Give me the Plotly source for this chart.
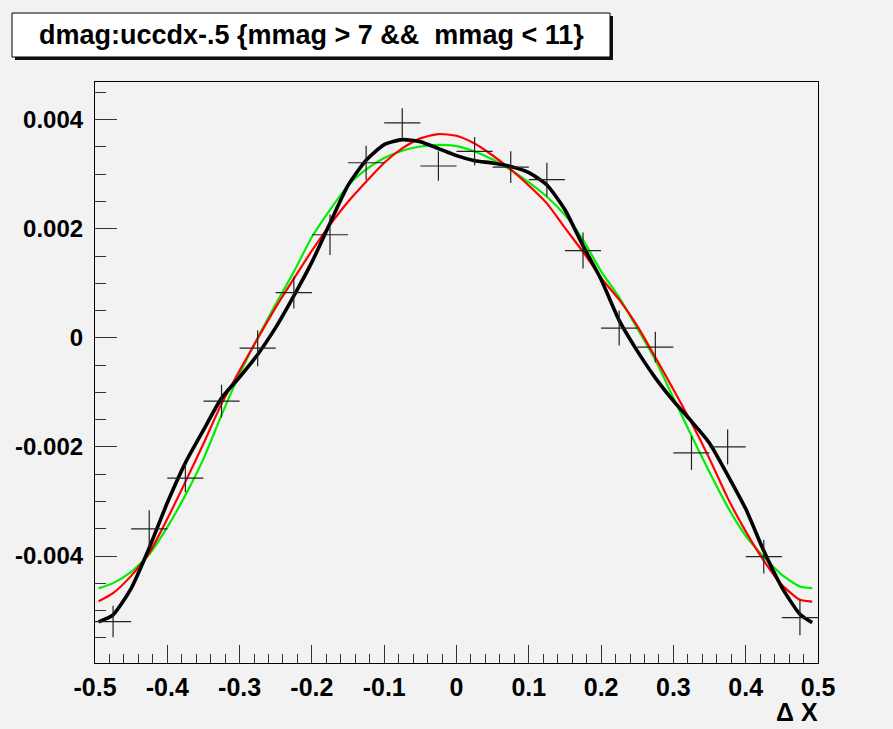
import plotly.graph_objects as go

# ---------------- data ----------------
# profile points (bin centres), values and errors
bin_x = [-0.475, -0.425, -0.375, -0.325, -0.275, -0.225, -0.175, -0.125, -0.075, -0.025,
         0.025, 0.075, 0.125, 0.175, 0.225, 0.275, 0.325, 0.375, 0.425, 0.475]
bin_y = [-0.00520, -0.00350, -0.00257, -0.00116, -0.00019, 0.00083, 0.00189, 0.00321, 0.00394, 0.00315,
         0.00342, 0.00313, 0.00290, 0.00160, 0.00018, -0.00017, -0.00211, -0.00200, -0.00401, -0.00513]
bin_err = [0.00029, 0.00034, 0.00026, 0.00030, 0.00033, 0.00029, 0.00037, 0.00031, 0.00027, 0.00027,
           0.00026, 0.00029, 0.00031, 0.00033, 0.00032, 0.00028, 0.00031, 0.00032, 0.00031, 0.00032]
bin_half_width = 0.025

# fitted curves, read at regular x positions
curve_x = [-0.495, -0.475, -0.45, -0.425, -0.4, -0.375, -0.35, -0.325, -0.3, -0.275,
           -0.25, -0.225, -0.2, -0.175, -0.15, -0.125, -0.1, -0.075, -0.05, -0.025,
           0.0, 0.025, 0.05, 0.075, 0.1, 0.125, 0.15, 0.175, 0.2, 0.225,
           0.25, 0.275, 0.3, 0.325, 0.35, 0.375, 0.4, 0.425, 0.45, 0.475, 0.492]

black_fit = [-0.005206, -0.005077, -0.004592, -0.003849, -0.003024, -0.002291, -0.001692, -0.001105, -0.000719, -0.000304,
             0.000192, 0.000770, 0.001388, 0.002102, 0.002795, 0.003254, 0.003541, 0.003633, 0.003596, 0.003470,
             0.003340, 0.003248, 0.003204, 0.003140, 0.003030, 0.002801, 0.002348, 0.001686, 0.001070, 0.000321,
             -0.000238, -0.000733, -0.001155, -0.001531, -0.001930, -0.002515, -0.003134, -0.003904, -0.004573, -0.005066, -0.005219]

red_fit = [-0.004830, -0.004680, -0.004363, -0.003941, -0.003318, -0.002640, -0.001940, -0.001210, -0.000598, -0.000011,
           0.000559, 0.001085, 0.001598, 0.002071, 0.002495, 0.002861, 0.003210, 0.003474, 0.003657, 0.003736,
           0.003704, 0.003562, 0.003343, 0.003087, 0.002793, 0.002465, 0.002016, 0.001576, 0.001100, 0.000700,
           0.000220, -0.000357, -0.000946, -0.001558, -0.002218, -0.002933, -0.003547, -0.004082, -0.004528, -0.004802, -0.004834]

green_fit = [-0.004592, -0.004496, -0.004289, -0.003968, -0.003470, -0.002883, -0.002218, -0.001417, -0.000660, 0.000000,
             0.000618, 0.001210, 0.001848, 0.002346, 0.002795, 0.003089, 0.003298, 0.003430, 0.003508, 0.003538,
             0.003516, 0.003417, 0.003270, 0.003078, 0.002850, 0.002586, 0.002251, 0.001796, 0.001219, 0.000742,
             0.000174, -0.000407, -0.001100, -0.001796, -0.002465, -0.003098, -0.003629, -0.004014, -0.004344, -0.004559, -0.004588]

x_tick_vals = [-0.5, -0.4, -0.3, -0.2, -0.1, 0, 0.1, 0.2, 0.3, 0.4, 0.5]
x_tick_text = ["-0.5", "-0.4", "-0.3", "-0.2", "-0.1", "0", "0.1", "0.2", "0.3", "0.4", "0.5"]
y_tick_vals = [-0.004, -0.002, 0, 0.002, 0.004]
y_tick_text = ["-0.004", "-0.002", "0", "0.002", "0.004"]

title_text = "dmag:uccdx-.5 {mmag > 7 &&  mmag < 11}"
x_title = "\u0394 X"

# ---------------- layout geometry ----------------
W, H = 893, 729
ML, MR, MT, MB = 95, 75, 82, 66
PW, PH = W - ML - MR, H - MT - MB


def px_x(p):
    return (p - ML) / PW


def px_y(p):
    return (H - MB - p) / PH


BG = "#f2f2f2"
FONT = "Liberation Sans"

fig = go.Figure()

fig.add_trace(go.Scatter(x=curve_x, y=green_fit, mode="lines", line=dict(color="#00ee00", width=2.2, shape="spline", smoothing=0.6), hoverinfo="skip", showlegend=False))
fig.add_trace(go.Scatter(x=curve_x, y=red_fit, mode="lines", line=dict(color="#ff0000", width=2.2, shape="spline", smoothing=0.6), hoverinfo="skip", showlegend=False))
fig.add_trace(go.Scatter(x=curve_x, y=black_fit, mode="lines", line=dict(color="#000000", width=3.6, shape="spline", smoothing=0.6), hoverinfo="skip", showlegend=False))

fig.add_trace(go.Scatter(
    x=bin_x, y=bin_y, mode="markers",
    marker=dict(size=1, color="rgba(0,0,0,0)"),
    error_x=dict(type="constant", value=bin_half_width, color="#222222", thickness=1.2, width=0),
    error_y=dict(type="data", array=bin_err, color="#222222", thickness=1.2, width=0),
    showlegend=False,
))

fig.update_xaxes(
    range=[-0.5, 0.5], showgrid=False, zeroline=False,
    showline=True, linecolor="black", linewidth=1.2, mirror=True,
    ticks="inside", ticklen=18, tickwidth=1, tickcolor="#333333",
    tickvals=x_tick_vals, ticktext=x_tick_text,
    tickfont=dict(family=FONT, size=25, color="black", weight="bold"),
    ticklabelstandoff=2,
    minor=dict(ticks="inside", ticklen=9, dtick=0.02, tick0=0, tickcolor="#333333", tickwidth=1, showgrid=False),
)
fig.update_yaxes(
    range=[-0.00596, 0.00469], showgrid=False, zeroline=False,
    showline=True, linecolor="black", linewidth=1.2, mirror=True,
    ticks="inside", ticklen=22, tickwidth=1, tickcolor="#333333",
    tickvals=y_tick_vals, ticktext=y_tick_text,
    tickfont=dict(family=FONT, size=24, color="black", weight="bold"),
    ticklabelstandoff=6,
    minor=dict(ticks="inside", ticklen=11, dtick=0.0005, tick0=0, tickcolor="#333333", tickwidth=1, showgrid=False),
)

# title box with shadow
shapes = [
    dict(type="rect", xref="paper", yref="paper",
         x0=px_x(15), x1=px_x(613), y0=px_y(60), y1=px_y(16),
         fillcolor="#111111", line=dict(width=0), layer="above"),
    dict(type="rect", xref="paper", yref="paper",
         x0=px_x(12), x1=px_x(610), y0=px_y(57), y1=px_y(13),
         fillcolor="white", line=dict(color="black", width=1), layer="above"),
]

annotations = [
    dict(text="<b>" + title_text + "</b>", xref="paper", yref="paper",
         x=px_x(311), y=px_y(35), xanchor="center", yanchor="middle",
         showarrow=False, font=dict(family=FONT, size=27, color="black")),
    dict(text="<b>" + x_title + "</b>", xref="paper", yref="paper",
         x=px_x(820), y=px_y(712), xanchor="right", yanchor="middle",
         showarrow=False, font=dict(family=FONT, size=25, color="black")),
]

fig.update_layout(
    width=W, height=H,
    margin=dict(l=ML, r=MR, t=MT, b=MB, pad=0),
    paper_bgcolor=BG, plot_bgcolor=BG,
    shapes=shapes, annotations=annotations,
    showlegend=False,
)

fig.write_html("out.html")
